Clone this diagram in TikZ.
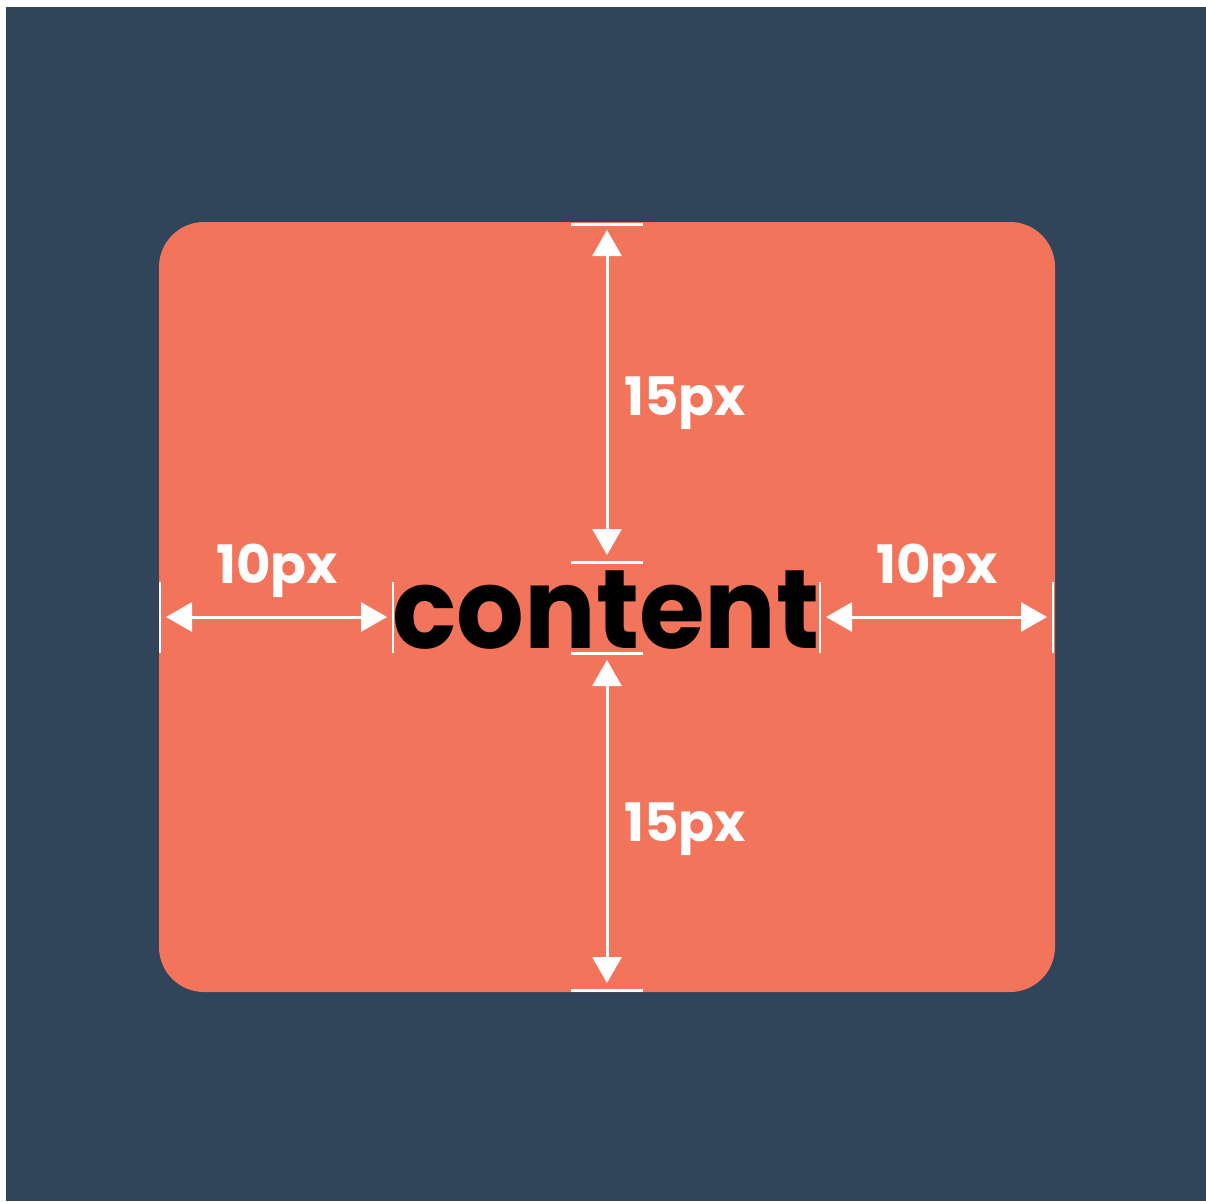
\documentclass[tikz,border=0pt]{standalone}
\usepackage{fontspec}
\setmainfont{Poppins}
\usetikzlibrary{arrows.meta}
\definecolor{bgdark}{RGB}{48,69,89}
\definecolor{boxorange}{RGB}{242,116,91}
\tikzset{
  dimline/.style={draw=white, line width=3pt, {Triangle[width=29pt,length=26pt]}-{Triangle[width=29pt,length=26pt]}},
  tickline/.style={draw=white, line width=3pt},
  vtick/.style={draw=white, line width=2.5pt},
  dimlabel/.style={text=white, font=\fontsize{53}{60}\selectfont\bfseries, inner sep=0pt},
}
\begin{document}
\begin{tikzpicture}[x=1pt,y=-1pt]
\useasboundingbox (0,0) rectangle (1206,1201);
\fill[white] (0,0) rectangle (1206,1201);
\fill[bgdark] (6,7) rectangle (1206,1201);
\fill[boxorange, rounded corners=45pt] (159,222) rectangle (1055,992);
% content text
\node[anchor=base, inner sep=0pt, font=\fontsize{112}{124}\selectfont\bfseries] (content) at (606,648) {\scalebox{0.95}[1]{content}};
% ticks
\coordinate (tTopA) at (571,224); \coordinate (tTopB) at (643,224);
\coordinate (tCtA) at (571,562); \coordinate (tCtB) at (643,562);
\coordinate (tCbA) at (571,653); \coordinate (tCbB) at (643,653);
\coordinate (tBotA) at (571,990); \coordinate (tBotB) at (643,990);
\draw[tickline] (tTopA) -- (tTopB);
\draw[tickline] (tCtA) -- (tCtB);
\draw[tickline] (tCbA) -- (tCbB);
\draw[tickline] (tBotA) -- (tBotB);
\coordinate (vL1a) at (160,582); \coordinate (vL1b) at (160,653);
\coordinate (vL2a) at (393,582); \coordinate (vL2b) at (393,653);
\coordinate (vR1a) at (820,582); \coordinate (vR1b) at (820,653);
\coordinate (vR2a) at (1053,582); \coordinate (vR2b) at (1053,653);
\draw[vtick] (vL1a) -- (vL1b);
\draw[vtick] (vL2a) -- (vL2b);
\draw[vtick] (vR1a) -- (vR1b);
\draw[vtick] (vR2a) -- (vR2b);
% arrows
\coordinate (aT1) at (607,230); \coordinate (aT2) at (607,555);
\coordinate (aB1) at (607,660); \coordinate (aB2) at (607,983);
\coordinate (aL1) at (166,617); \coordinate (aL2) at (387,617);
\coordinate (aR1) at (826,617); \coordinate (aR2) at (1047,617);
\draw[dimline] (aT1) -- (aT2);
\draw[dimline] (aB1) -- (aB2);
\draw[dimline] (aL1) -- (aL2);
\draw[dimline] (aR1) -- (aR2);
% labels
\node[dimlabel] (lTop) at (685,403) {15px};
\node[dimlabel] (lBot) at (685,829) {15px};
\node[dimlabel] (lLeft) at (277,571) {10px};
\node[dimlabel] (lRight) at (937,571) {10px};
\end{tikzpicture}
\end{document}
